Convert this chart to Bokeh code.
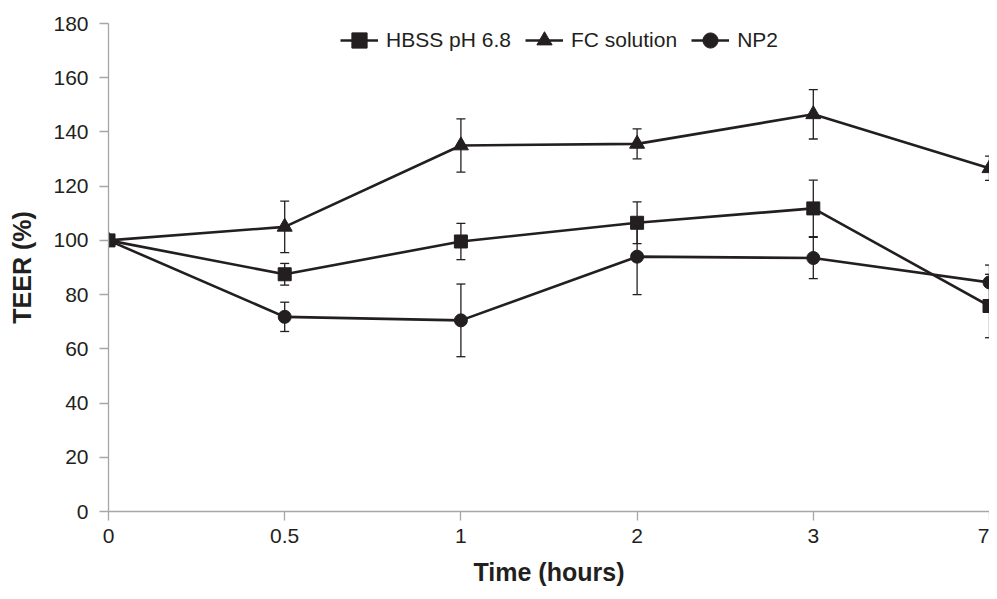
from bokeh.plotting import figure
from bokeh.models import Whisker, ColumnDataSource, FixedTicker, Legend, LegendItem, Range1d, TeeHead
from bokeh.embed import file_html
from bokeh.resources import INLINE

time_labels = ["0", "0.5", "1", "2", "3", "7"]
hbss = [100, 87.5, 99.6, 106.5, 111.8, 75.8]
hbss_err = [0, 4.0, 6.7, 7.7, 10.4, 11.7]
fc = [100, 105.0, 135.0, 135.6, 146.5, 126.6]
fc_err = [0, 9.5, 9.8, 5.5, 9.1, 4.5]
np2 = [100, 71.8, 70.5, 94.0, 93.5, 84.5]
np2_err = [0, 5.4, 13.4, 14.0, 7.6, 6.4]
y_ticks = [0, 20, 40, 60, 80, 100, 120, 140, 160, 180]

FONT = "Liberation Sans"
INK = "#231f20"
AXIS = "#a6a6a6"

xs = list(range(len(time_labels)))

p = figure(width=989, height=591, output_backend="svg", toolbar_location=None,
           x_range=Range1d(0, len(time_labels) - 1), y_range=Range1d(0, 180),
           min_border_left=108, min_border_right=0, min_border_top=23, min_border_bottom=80)
p.outline_line_color = None
p.grid.visible = False
p.background_fill_color = "white"

for ax in (p.xaxis[0], p.yaxis[0]):
    ax.axis_line_color = AXIS
    ax.axis_line_width = 1.3
    ax.major_tick_line_color = AXIS
    ax.major_tick_line_width = 1.3
    ax.major_tick_out = 9
    ax.major_tick_in = 0
    ax.minor_tick_line_color = None
    ax.major_label_text_font = FONT
    ax.major_label_text_font_size = "21px"
    ax.major_label_text_color = INK
    ax.axis_label_text_font = FONT
    ax.axis_label_text_font_size = "25px"
    ax.axis_label_text_font_style = "bold"
    ax.axis_label_text_color = INK

p.xaxis.ticker = FixedTicker(ticks=xs)
p.xaxis.major_label_overrides = {i: t for i, t in enumerate(time_labels)}
p.xaxis.axis_label = "Time (hours)"
p.xaxis.major_label_standoff = 8
p.xaxis.axis_label_standoff = 12

p.yaxis.ticker = FixedTicker(ticks=y_ticks)
p.yaxis.axis_label = "TEER (%)"
p.yaxis.major_label_standoff = 11
p.yaxis.axis_label_standoff = 14

items = []
series = [
    ("HBSS pH 6.8", hbss, hbss_err, "square", 13),
    ("FC solution", fc, fc_err, "triangle", 15),
    ("NP2", np2, np2_err, "circle", 13),
]
for name, vals, errs, marker, size in series:
    src = ColumnDataSource(data=dict(
        x=xs, y=vals,
        lo=[v - e for v, e in zip(vals, errs)],
        hi=[v + e for v, e in zip(vals, errs)],
    ))
    w = Whisker(source=src, base="x", lower="lo", upper="hi",
                line_color=INK, line_width=1.3,
                upper_head=TeeHead(size=9, line_color=INK, line_width=1.3),
                lower_head=TeeHead(size=9, line_color=INK, line_width=1.3))
    p.add_layout(w)
    ln = p.line("x", "y", source=src, line_color=INK, line_width=2.6)
    sc = p.scatter("x", "y", source=src, marker=marker, size=size,
                   fill_color=INK, line_color=INK)
    items.append(LegendItem(label=name, renderers=[ln, sc]))

legend = Legend(items=items, orientation="horizontal", location=(232, 452),
                label_text_font=FONT, label_text_font_size="21px", label_text_color=INK,
                glyph_width=38, glyph_height=38, label_standoff=8, spacing=14,
                padding=0, margin=0, border_line_color=None, background_fill_alpha=0)
p.add_layout(legend)

open("out.html", "w").write(file_html(p, INLINE))
